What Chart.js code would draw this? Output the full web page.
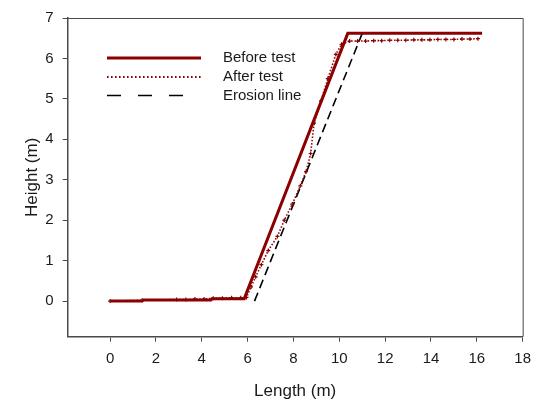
<!DOCTYPE html>
<html>
<head>
<meta charset="utf-8">
<script src="https://cdn.jsdelivr.net/npm/chart.js@4/dist/chart.umd.min.js"></script>
<style>
  html, body { margin: 0; padding: 0; background: #ffffff; }
  #wrap { width: 539px; height: 405px; position: relative; }
</style>
</head>
<body>
<div id="wrap"><canvas id="c"></canvas></div>
<script>
// ---- data ----
const seriesNames = ['Before test', 'After test', 'Erosion line'];

const beforeX = [0, 1.4, 1.45, 4.4, 4.45, 5.85, 10.37, 16.23];
const beforeY = [0, 0.0, 0.03, 0.03, 0.06, 0.06, 6.62, 6.62];

const afterX = [0, 1.4, 2.9, 3.3, 3.7, 4.1, 4.5, 4.9, 5.3, 5.7, 5.95, 6.15, 6.35, 6.6, 6.9, 7.3, 7.6, 7.95, 8.3, 8.55, 8.75, 8.9, 9.2, 9.5, 9.85, 10.1, 10.45, 10.8, 11.15, 11.5, 11.85, 12.2, 12.55, 12.9, 13.25, 13.6, 13.95, 14.3, 14.65, 15.0, 15.35, 15.7, 16.05];
const afterY = [0, 0.02, 0.04, 0.04, 0.05, 0.05, 0.07, 0.07, 0.08, 0.08, 0.09, 0.35, 0.6, 0.9, 1.25, 1.6, 2.0, 2.4, 2.85, 3.2, 3.65, 4.4, 4.95, 5.5, 6.1, 6.35, 6.43, 6.43, 6.43, 6.44, 6.44, 6.45, 6.45, 6.45, 6.46, 6.46, 6.46, 6.47, 6.47, 6.47, 6.48, 6.48, 6.49];

const erosionX = [6.3, 11.0];
const erosionY = [0, 6.62];

const xTicks = [0, 2, 4, 6, 8, 10, 12, 14, 16, 18];
const yTicks = [0, 1, 2, 3, 4, 5, 6, 7];
const xRange = [-1.85, 18];
const yRange = [-0.88, 7];

const xTitle = 'Length (m)';
const yTitle = 'Height (m)';

// ---- build ----
const pts = (xs, ys) => xs.map((x, i) => ({ x: x, y: ys[i] }));
const RED = '#8b0000';
const FRAME = '#4a4a4a';
const FONT = "'Liberation Sans', Arial, sans-serif";

const legendPlugin = {
  id: 'customLegend',
  afterDatasetsDraw(chart) {
    const ctx = chart.ctx;
    const rows = [58, 77, 95.5];
    const tx = 223;
    const styles = [
      { color: RED, width: 3, dash: [], x0: 107, x1: 201 },
      { color: RED, width: 1.8, dash: [1.6, 2.4], x0: 107, x1: 201 },
      { color: '#000000', width: 1.6, dash: [14, 17], x0: 107, x1: 190 }
    ];
    ctx.save();
    chart.data.datasets.forEach((ds, i) => {
      const s = styles[i];
      ctx.beginPath();
      ctx.setLineDash(s.dash);
      ctx.lineWidth = s.width;
      ctx.strokeStyle = s.color;
      ctx.moveTo(s.x0, rows[i]);
      ctx.lineTo(s.x1, rows[i]);
      ctx.stroke();
      ctx.setLineDash([]);
      ctx.fillStyle = '#1a1a1a';
      ctx.font = '15px ' + FONT;
      ctx.textBaseline = 'middle';
      ctx.textAlign = 'left';
      ctx.fillText(ds.label, tx, rows[i]);
    });
    ctx.restore();
  },
  afterDraw(chart) {
    const a = chart.chartArea;
    const ctx = chart.ctx;
    ctx.save();
    ctx.strokeStyle = FRAME;
    ctx.lineWidth = 1;
    ctx.beginPath();
    ctx.moveTo(a.left, a.top + 0.5);
    ctx.lineTo(a.right + 0.5, a.top + 0.5);
    ctx.lineTo(a.right + 0.5, a.bottom);
    ctx.stroke();
    ctx.restore();
  }
};

new Chart(document.getElementById('c'), {
  type: 'scatter',
  data: {
    datasets: [
      {
        label: seriesNames[0],
        data: pts(beforeX, beforeY),
        showLine: true,
        borderColor: RED,
        backgroundColor: RED,
        borderWidth: 3,
        pointRadius: 0,
        order: 1
      },
      {
        label: seriesNames[1],
        data: pts(afterX, afterY),
        showLine: true,
        borderColor: RED,
        backgroundColor: RED,
        borderWidth: 1.6,
        borderDash: [1.5, 1.8],
        pointStyle: 'cross',
        pointRadius: 2,
        pointBorderWidth: 1.2,
        pointBorderColor: RED,
        order: 0
      },
      {
        label: seriesNames[2],
        data: pts(erosionX, erosionY),
        showLine: true,
        borderColor: '#000000',
        backgroundColor: '#000000',
        borderWidth: 1.6,
        borderDash: [9, 5],
        pointRadius: 0,
        order: 2
      }
    ]
  },
  options: {
    responsive: true,
    maintainAspectRatio: false,
    animation: false,
    layout: { padding: { left: 0, top: 18, right: 15.5, bottom: 0 } },
    plugins: {
      legend: { display: false },
      tooltip: { enabled: false }
    },
    scales: {
      x: {
        type: 'linear',
        min: xRange[0],
        max: xRange[1],
        afterBuildTicks: (s) => { s.ticks = xTicks.map(v => ({ value: v })); },
        afterFit: (s) => { s.height = 68.3; },
        grid: { drawOnChartArea: false, drawTicks: true, tickLength: 5, color: FRAME, tickWidth: 1 },
        border: { display: true, color: FRAME, width: 1.5 },
        ticks: { color: '#1a1a1a', font: { family: FONT, size: 15 }, padding: 8, maxRotation: 0, autoSkip: false },
        title: { display: true, text: xTitle, color: '#1a1a1a', font: { family: FONT, size: 17 }, padding: { top: 0, bottom: 3 } }
      },
      y: {
        type: 'linear',
        min: yRange[0],
        max: yRange[1],
        afterBuildTicks: (s) => { s.ticks = yTicks.map(v => ({ value: v })); },
        afterFit: (s) => { s.width = 67.7; },
        grid: { drawOnChartArea: false, drawTicks: true, tickLength: 5, color: FRAME, tickWidth: 1 },
        border: { display: true, color: FRAME, width: 1.5 },
        ticks: { color: '#1a1a1a', font: { family: FONT, size: 15 }, padding: 9, autoSkip: false },
        title: { display: true, text: yTitle, color: '#1a1a1a', font: { family: FONT, size: 17 }, padding: { top: 22, bottom: 0 } }
      }
    }
  },
  plugins: [legendPlugin]
});
</script>
</body>
</html>
